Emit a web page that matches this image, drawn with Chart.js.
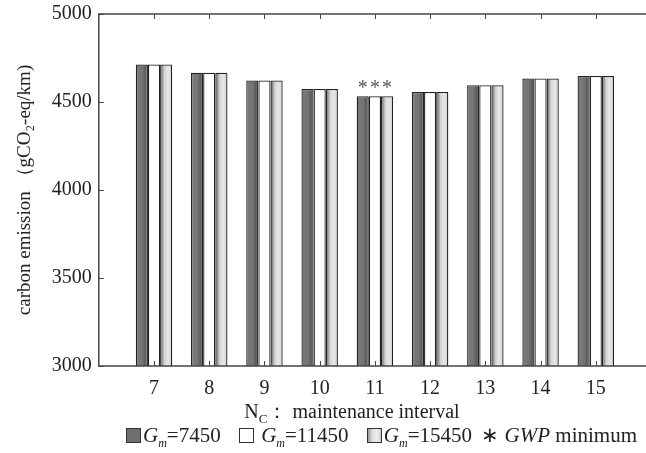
<!DOCTYPE html>
<html>
<head>
<meta charset="utf-8">
<script src="https://cdn.jsdelivr.net/npm/chart.js@4.4.1/dist/chart.umd.min.js"></script>
<style>
  html, body { margin: 0; padding: 0; background: #fff; overflow: hidden; }
  #wrap { position: relative; width: 662px; height: 453px; }
  #chart { position: absolute; left: 0; top: -5px; }
  #xtitle { position: absolute; left: 0; width: 646px; top: 398px; text-align: center;
            font-family: "Liberation Serif", serif; font-size: 20px; color: #222; padding-left: 58px; box-sizing: border-box; }
  #legend { position: absolute; left: 126px; top: 423px; white-space: nowrap;
            font-family: "Liberation Serif", serif; font-size: 21px; color: #222; }
  #legend span.box { display: inline-block; width: 13px; height: 13px; border: 1px solid #333; vertical-align: -1px; margin-right: 2px; }
  #legend .item { margin-right: 13px; }
</style>
</head>
<body>
<div id="wrap">
  <canvas id="chart" width="662" height="453"></canvas>
  <div id="xtitle">N<sub style="font-size:13px">C</sub>：&nbsp;maintenance interval</div>
  <div id="legend">
    <span class="item"><span class="box" style="background:#6f6f6f"></span><i>G<sub style="font-size:12px">m</sub></i>=7450</span>
    <span class="item"><span class="box" style="background:#fff"></span> <i>G<sub style="font-size:12px">m</sub></i>=11450</span>
    <span class="item" style="margin-right:4px"><span class="box" style="background:linear-gradient(90deg,#999,#ddd,#eee,#ccc)"></span><i>G<sub style="font-size:12px">m</sub></i>=15450</span>
    <span>∗ <i>GWP</i> minimum</span>
  </div>
</div>
<script>
// maintenance interval
const categories = ['7', '8', '9', '10', '11', '12', '13', '14', '15'];
// carbon emission per Gm
const gm7450  = [4713, 4666, 4622, 4574, 4533, 4557, 4595, 4634, 4648];
const gm11450 = [4713, 4666, 4622, 4574, 4533, 4557, 4595, 4634, 4648];
const gm15450 = [4713, 4666, 4622, 4574, 4533, 4557, 4595, 4634, 4648];
const yTicks = [3000, 3500, 4000, 4500, 5000];

const labels = [''].concat(categories, ['']);
const pad = arr => [null].concat(arr, [null]);
const catPct = 0.66;

// bar gradient across its width
function barFill(stops) {
    return function (ctx) {
        const chart = ctx.chart;
        const xs = chart.scales.x;
        if (!xs || !chart.chartArea || ctx.type !== 'data') return stops[0][1];
        const step = xs.width / (labels.length - 1);
        const groupW = step * catPct;
        const barW = groupW / 3;
        const left = xs.getPixelForValue(ctx.index) - groupW / 2 + ctx.datasetIndex * barW;
        const g = chart.ctx.createLinearGradient(left, 0, left + barW, 0);
        stops.forEach(s => g.addColorStop(s[0], s[1]));
        return g;
    };
}

// frame + inward ticks
const framePlugin = {
    id: 'frame',
    afterDraw(chart) {
        const c = chart.ctx, a = chart.chartArea;
        const xs = chart.scales.x, ys = chart.scales.y;
        c.save();
        c.strokeStyle = '#444';
        c.lineWidth = 1.5;
        c.strokeRect(a.left, a.top, a.right - a.left, a.bottom - a.top);
        c.lineWidth = 1;
        c.beginPath();
        yTicks.forEach(v => {
            const y = Math.round(ys.getPixelForValue(v)) + 0.5;
            c.moveTo(a.left, y); c.lineTo(a.left + 5, y);
            c.moveTo(a.right, y); c.lineTo(a.right - 5, y);
        });
        categories.forEach((cat, i) => {
            const x = Math.round(xs.getPixelForValue(i + 1)) + 0.5;
            c.moveTo(x, a.top); c.lineTo(x, a.top + 5);
            c.moveTo(x, a.bottom); c.lineTo(x, a.bottom - 5);
        });
        c.stroke();
        c.restore();
    }
};

// asterisk over the minimum of each series
const minPlugin = {
    id: 'minMark',
    afterDatasetsDraw(chart) {
        const c = chart.ctx;
        c.save();
        c.fillStyle = '#555';
        c.font = '20px "Liberation Serif"';
        c.textAlign = 'center';
        c.textBaseline = 'alphabetic';
        chart.data.datasets.forEach((ds, di) => {
            const vals = ds.data.filter(v => v !== null);
            const min = Math.min.apply(null, vals);
            const idx = ds.data.indexOf(min);
            const bar = chart.getDatasetMeta(di).data[idx];
            c.fillText('*', bar.x, bar.y - 2);
        });
        c.restore();
    }
};

const chart = new Chart(document.getElementById('chart'), {
    type: 'bar',
    data: {
        labels: labels,
        datasets: [
            { label: 'Gm=7450', data: pad(gm7450),
              backgroundColor: barFill([[0, '#7a7a7a'], [0.55, '#747474'], [0.75, '#5e5e5e'], [1, '#6a6a6a']]) },
            { label: 'Gm=11450', data: pad(gm11450), backgroundColor: '#ffffff' },
            { label: 'Gm=15450', data: pad(gm15450),
              backgroundColor: barFill([[0, '#6a6a6a'], [0.2, '#9a9a9a'], [0.35, '#d4d4d4'], [0.65, '#e8e8e8'], [1, '#cdcdcd']]) }
        ]
    },
    options: {
        responsive: false,
        animation: false,
        events: [],
        datasets: {
            bar: { categoryPercentage: catPct, barPercentage: 1.0, borderColor: '#222', borderWidth: 1.3, borderSkipped: false }
        },
        layout: { padding: { top: 0, right: 0, bottom: 36, left: 14 } },
        plugins: { legend: { display: false }, tooltip: { enabled: false } },
        scales: {
            x: {
                offset: false,
                grid: { display: false, drawTicks: false },
                border: { display: false },
                ticks: { color: '#222', padding: 11, font: { family: 'Liberation Serif', size: 20 }, maxRotation: 0, autoSkip: false }
            },
            y: {
                min: 3000, max: 5000,
                afterBuildTicks: axis => { axis.ticks = yTicks.map(v => ({ value: v })); },
                grid: { display: false, drawTicks: false },
                border: { display: false },
                ticks: { color: '#222', padding: 7, font: { family: 'Liberation Serif', size: 20 }, callback: v => String(v) },
                title: { display: true, text: 'carbon emission （gCO₂-eq/km)', color: '#222',
                         font: { family: 'Liberation Serif', size: 19 }, padding: { top: 0, bottom: 8 } }
            }
        }
    },
    plugins: [framePlugin, minPlugin]
});
</script>
</body>
</html>
